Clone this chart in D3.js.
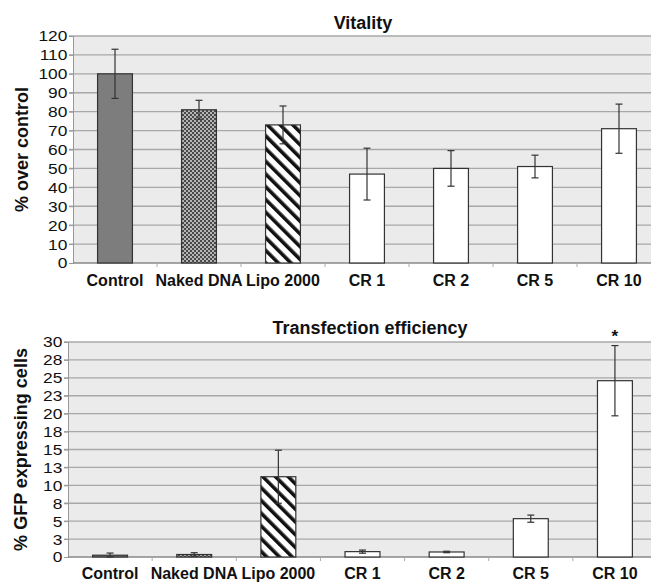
<!DOCTYPE html>
<html>
<head>
<meta charset="utf-8">
<script src="https://cdn.jsdelivr.net/npm/d3@7"></script>
<style>
  body { margin: 0; background: #fff; }
  svg { display: block; font-family: "Liberation Sans", Arial, sans-serif; }
</style>
</head>
<body>
<svg width="651" height="582"></svg>
<script>
// data
const categories = ["Control", "Naked DNA", "Lipo 2000", "CR 1", "CR 2", "CR 5", "CR 10"];
const fills = ["solid", "checker", "stripes", "white", "white", "white", "white"];

const vitality = [100, 81, 73, 47, 50, 51, 71];
const vitalityErr = [13, 5, 10, 13.7, 9.4, 6, 13];
const vitalityTicks = [0, 10, 20, 30, 40, 50, 60, 70, 80, 90, 100, 110, 120];

const transfection = [0.25, 0.35, 11.2, 0.75, 0.7, 5.35, 24.6];
const transfectionErr = [0.3, 0.25, 3.7, 0.22, 0.1, 0.5, 4.9];
const transfectionTicks = [0, 2.5, 5, 7.5, 10, 12.5, 15, 17.5, 20, 22.5, 25, 27.5, 30];
const transfectionStars = ["", "", "", "", "", "", "*"];

let svg = d3.select("svg");
let defs = svg.append("defs");

// fine checkerboard
let chk = defs.append("pattern").attr("id", "checker")
    .attr("patternUnits", "userSpaceOnUse").attr("width", 4).attr("height", 4);
chk.append("rect").attr("width", 4).attr("height", 4).attr("fill", "#b5b5b5");
chk.append("rect").attr("width", 2).attr("height", 2).attr("fill", "#4a4a4a");
chk.append("rect").attr("x", 2).attr("y", 2).attr("width", 2).attr("height", 2).attr("fill", "#4a4a4a");

// diagonal stripes going down to the right
let str = defs.append("pattern").attr("id", "stripes")
    .attr("patternUnits", "userSpaceOnUse").attr("width", 9).attr("height", 9)
    .attr("patternTransform", "rotate(-45)");
str.append("rect").attr("width", 9).attr("height", 9).attr("fill", "#fff");
str.append("rect").attr("width", 3.6).attr("height", 9).attr("fill", "#111");

function fillFor(f) {
    if (f === "solid") return "#7d7d7d";
    if (f === "checker") return "url(#checker)";
    if (f === "stripes") return "url(#stripes)";
    return "#fff";
}

function drawPanel(opt) {
    let g = svg.append("g");

    let x = d3.scaleBand().domain(categories).range([opt.left, opt.right]);
    let y = d3.scaleLinear().domain([0, d3.max(opt.ticks)]).range([opt.bottom, opt.top]);

    g.append("rect")
        .attr("x", opt.left).attr("y", opt.top)
        .attr("width", opt.right - opt.left).attr("height", opt.bottom - opt.top)
        .attr("fill", "#ebebeb");

    // gridlines
    g.selectAll(".grid").data(opt.ticks.slice(1)).enter().append("line")
        .attr("x1", opt.left - 4).attr("x2", opt.right)
        .attr("y1", d => y(d)).attr("y2", d => y(d))
        .attr("stroke", "#a8a8a8").attr("stroke-width", 1.3);

    // y axis
    let yAxis = d3.axisLeft(y).tickValues(opt.ticks).tickSize(4).tickPadding(1)
        .tickFormat(d => Math.round(d));
    let ya = g.append("g").attr("transform", `translate(${opt.left},0)`).call(yAxis);
    ya.select(".domain").attr("stroke", "#999");
    ya.selectAll(".tick line").attr("stroke", "#999");
    ya.selectAll(".tick text").attr("font-size", 15.5).attr("fill", "#111")
        .attr("transform", "scale(1.12,1)");

    // x axis: ticks at the category boundaries
    let xa = g.append("g").attr("transform", `translate(0,${opt.bottom})`);
    xa.append("line").attr("x1", opt.left).attr("x2", opt.right)
        .attr("stroke", "#888").attr("stroke-width", 1.3);
    xa.selectAll(".bt").data(categories.slice(1)).enter().append("line")
        .attr("x1", d => x(d)).attr("x2", d => x(d))
        .attr("y1", 0).attr("y2", 4).attr("stroke", "#aaa");
    xa.selectAll(".lbl").data(categories).enter().append("text")
        .attr("x", d => x(d) + x.bandwidth() / 2)
        .attr("y", opt.labelDy)
        .attr("text-anchor", "middle")
        .attr("font-size", 16).attr("font-weight", "bold").attr("fill", "#111")
        .text(d => d);

    let bw = x.bandwidth() * 0.415;

    // bars
    g.selectAll(".bar").data(opt.values).enter().append("rect")
        .attr("x", (d, i) => x(categories[i]) + x.bandwidth() / 2 - bw / 2)
        .attr("y", d => y(d))
        .attr("width", bw)
        .attr("height", d => opt.bottom - y(d))
        .attr("fill", (d, i) => fillFor(fills[i]))
        .attr("stroke", "#333").attr("stroke-width", 1.2);

    // error bars
    let eb = g.selectAll(".err").data(opt.values).enter().append("g")
        .attr("transform", (d, i) => `translate(${x(categories[i]) + x.bandwidth() / 2},0)`);
    eb.append("line")
        .attr("y1", (d, i) => y(d + opt.errors[i]))
        .attr("y2", (d, i) => y(Math.max(0, d - opt.errors[i])))
        .attr("stroke", "#333").attr("stroke-width", 1.2);
    eb.append("line").attr("x1", -3.5).attr("x2", 3.5)
        .attr("y1", (d, i) => y(d + opt.errors[i]))
        .attr("y2", (d, i) => y(d + opt.errors[i]))
        .attr("stroke", "#333").attr("stroke-width", 1.2);
    eb.append("line").attr("x1", -3.5).attr("x2", 3.5)
        .attr("y1", (d, i) => y(Math.max(0, d - opt.errors[i])))
        .attr("y2", (d, i) => y(Math.max(0, d - opt.errors[i])))
        .attr("stroke", "#333").attr("stroke-width", 1.2);

    if (opt.stars) {
        eb.append("text")
            .attr("y", (d, i) => y(d + opt.errors[i]) - 4)
            .attr("text-anchor", "middle")
            .attr("font-size", 17).attr("font-weight", "bold").attr("fill", "#111")
            .text((d, i) => opt.stars[i]);
    }

    // title and y label
    g.append("text").attr("x", opt.titleX).attr("y", opt.titleY)
        .attr("text-anchor", "middle")
        .attr("font-size", 18).attr("font-weight", "bold").attr("fill", "#111")
        .text(opt.title);
    g.append("text")
        .attr("transform", `translate(${opt.ylabX},${(opt.top + opt.bottom) / 2}) rotate(-90)`)
        .attr("text-anchor", "middle")
        .attr("font-size", 18).attr("font-weight", "bold").attr("fill", "#111")
        .text(opt.ylabel);
}

drawPanel({
    values: vitality, errors: vitalityErr, ticks: vitalityTicks,
    left: 73, right: 661, top: 36, bottom: 263,
    labelDy: 23, title: "Vitality", titleX: 363, titleY: 29,
    ylabel: "% over control", ylabX: 28
});

drawPanel({
    values: transfection, errors: transfectionErr, ticks: transfectionTicks, stars: transfectionStars,
    left: 68, right: 657, top: 342, bottom: 557,
    labelDy: 22, title: "Transfection efficiency", titleX: 370, titleY: 334,
    ylabel: "% GFP expressing cells", ylabX: 27
});
</script>
</body>
</html>
